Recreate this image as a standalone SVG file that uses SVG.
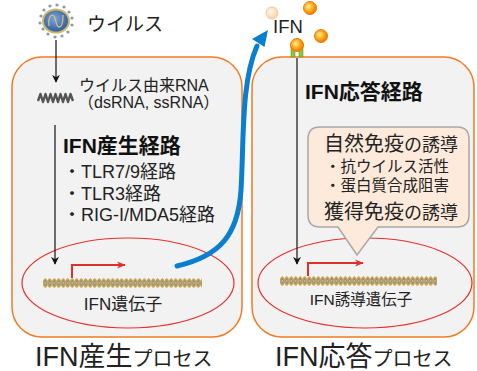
<svg xmlns="http://www.w3.org/2000/svg" width="477" height="371" viewBox="0 0 477 371">
  <style>
    text { font-family: "Liberation Sans", "Noto Sans CJK JP", sans-serif; fill: #222; }
    .bold { font-weight: bold; fill: #111; }
    .cell { fill: #f2f2f2; stroke: #f47a22; stroke-width: 1.5; }
    .nucleus { fill: none; stroke: #e8302a; stroke-width: 1.2; }
    .path-line { fill: none; stroke: #222; stroke-width: 1.3; }
    .tss { fill: none; stroke: #e0302a; stroke-width: 2; }
    .ifn-ball { stroke: #e87d10; stroke-width: 1; fill: url(#ballGrad); }
  </style>
  <defs>
    <radialGradient id="ballGrad" cx="0.4" cy="0.4" r="0.6">
      <stop offset="0" stop-color="#fff3a0"/>
      <stop offset="0.5" stop-color="#ffb020"/>
      <stop offset="1" stop-color="#f07800"/>
    </radialGradient>
    <radialGradient id="fadedBall" cx="0.4" cy="0.4" r="0.6">
      <stop offset="0" stop-color="#fffbe8"/>
      <stop offset="1" stop-color="#f8cfa8"/>
    </radialGradient>
    <radialGradient id="virusGrad" cx="0.45" cy="0.4" r="0.6">
      <stop offset="0" stop-color="#7aa6dc"/>
      <stop offset="1" stop-color="#2c5a9c"/>
    </radialGradient>
    <!-- repeating double helix, one turn per tile -->
    <pattern id="helix" patternUnits="userSpaceOnUse" x="0" y="0" width="9" height="14">
      <path d="M0,7 Q2.25,-1 4.5,7 Q2.25,15 0,7 Z M4.5,7 Q6.75,-1 9,7 Q6.75,15 4.5,7 Z" fill="#8f8f8f" stroke="#c9a44e" stroke-width="1.4"/>
      <path d="M1.5,7 H3 M6,7 H7.5" stroke="#d8d8d8" stroke-width="1"/>
    </pattern>
    <marker id="blackHead" viewBox="0 0 10 10" refX="9" refY="5" markerWidth="8" markerHeight="8" markerUnits="userSpaceOnUse" orient="auto">
      <path d="M0,0 L10,5 L0,10 L3,5 Z" fill="#111"/>
    </marker>
    <marker id="redHead" viewBox="0 0 10 10" refX="9" refY="5" markerWidth="9" markerHeight="9" markerUnits="userSpaceOnUse" orient="auto">
      <path d="M0,1 L10,5 L0,9 L3,5 Z" fill="#e0302a"/>
    </marker>
  </defs>

  <rect width="477" height="371" fill="#fff"/>

  <!-- left cell: IFN production -->
  <g id="cell-production">
    <rect class="cell" x="12" y="57" width="230" height="280" rx="30"/>
    <ellipse class="nucleus" cx="128" cy="283" rx="106" ry="45"/>
    <g transform="translate(43,276)"><rect width="159" height="14" fill="url(#helix)"/></g>
    <path class="tss" d="M72,278 V265 H125" marker-end="url(#redHead)"/>
    <text x="123" y="310" font-size="17" text-anchor="middle">IFN遺伝子</text>
    <text x="35" y="366" font-size="27">IFN産生<tspan font-size="20">プロセス</tspan></text>
  </g>

  <!-- right cell: IFN response -->
  <g id="cell-response">
    <rect class="cell" x="252" y="57" width="222" height="280" rx="30"/>
    <ellipse class="nucleus" cx="365" cy="283" rx="107" ry="45"/>
    <g transform="translate(280,274)"><rect width="157" height="14" fill="url(#helix)"/></g>
    <path class="tss" d="M308,276 V263 H363" marker-end="url(#redHead)"/>
    <text x="361" y="305" font-size="15.5" text-anchor="middle">IFN誘導遺伝子</text>
    <text x="275" y="366" font-size="27">IFN応答<tspan font-size="20">プロセス</tspan></text>
  </g>

  <!-- virus -->
  <g id="virus">
    <g fill="#8a99ad">
      <circle cx="41" cy="16" r="1.6"/><circle cx="44" cy="10" r="1.6"/><circle cx="50" cy="6" r="1.6"/>
      <circle cx="57" cy="5" r="1.6"/><circle cx="64" cy="7" r="1.6"/><circle cx="69" cy="12" r="1.6"/>
      <circle cx="72" cy="18" r="1.6"/><circle cx="72" cy="25" r="1.6"/><circle cx="68" cy="32" r="1.6"/>
      <circle cx="62" cy="36" r="1.6"/><circle cx="55" cy="37" r="1.6"/><circle cx="48" cy="34" r="1.6"/>
      <circle cx="43" cy="29" r="1.6"/><circle cx="40" cy="23" r="1.6"/>
    </g>
    <ellipse cx="56" cy="21" rx="13" ry="11.5" fill="url(#virusGrad)" stroke="#cdb865" stroke-width="2"/>
    <path d="M49,26 C48,18 51,13 54,16 C56,19 56,27 59,27 C62,27 63,20 63,15" fill="none" stroke="#d8c070" stroke-width="1.3"/>
    <text x="87" y="31" font-size="19">ウイルス</text>
  </g>

  <!-- viral RNA -->
  <g id="viral-rna">
    <path d="M38,101 L40.5,94 L43,102 L45.5,94 L48,102 L50.5,94 L53,102 L55.5,94 L58,102 L60.5,94 L63,102 L65.5,94 L68,102 L70.5,94 L73,101" fill="none" stroke="#555" stroke-width="2.4" stroke-linejoin="round"/>
    <text x="79" y="91" font-size="16">ウイルス由来RNA</text>
    <text x="78" y="108" font-size="16">（dsRNA, ssRNA）</text>
  </g>

  <!-- production pathways -->
  <g id="production-pathway">
    <text class="bold" x="63" y="153" font-size="21">IFN産生経路</text>
    <text x="63" y="178" font-size="18">・TLR7/9経路</text>
    <text x="63" y="200" font-size="18">・TLR3経路</text>
    <text x="63" y="221" font-size="18">・RIG-I/MDA5経路</text>
  </g>

  <!-- secreted IFN and receptor -->
  <g id="ifn">
    <rect x="291" y="47" width="4" height="10" fill="#8cc43a" stroke="#6a9a20" stroke-width="0.6"/>
    <rect x="299" y="47" width="4" height="10" fill="#8cc43a" stroke="#6a9a20" stroke-width="0.6"/>
    <circle cx="272" cy="13" r="6" fill="url(#fadedBall)" stroke="#f3c9a0" stroke-width="1"/>
    <circle class="ifn-ball" cx="310" cy="8" r="6.5"/>
    <circle class="ifn-ball" cx="321" cy="36" r="6.5"/>
    <circle class="ifn-ball" cx="297" cy="45" r="6.5"/>
    <text x="273" y="33" font-size="18.5">IFN</text>
  </g>

  <!-- response pathway and its effects -->
  <g id="response-pathway">
    <text class="bold" x="305" y="99" font-size="21">IFN応答経路</text>
  </g>
  <g id="callout">
    <path d="M320,127 H457 Q469,127 469,139 V215 Q469,227 457,227 H378 L357,255 L338,227 H320 Q308,227 308,215 V139 Q308,127 320,127 Z" fill="#fdeadb" stroke="#a8a8a8" stroke-width="1.5"/>
    <text x="391" y="151" font-size="20" text-anchor="middle">自然免疫<tspan font-size="18">の誘導</tspan></text>
    <text x="387" y="172" font-size="15.5" text-anchor="middle">・抗ウイルス活性</text>
    <text x="387" y="191" font-size="15.5" text-anchor="middle">・蛋白質合成阻害</text>
    <text x="391" y="219" font-size="20" text-anchor="middle">獲得免疫<tspan font-size="18">の誘導</tspan></text>
  </g>

  <!-- connectors -->
  <g id="connectors">
    <line class="path-line" x1="56" y1="40" x2="56" y2="82" marker-end="url(#blackHead)"/>
    <line class="path-line" x1="55" y1="125" x2="55" y2="264" marker-end="url(#blackHead)"/>
    <line class="path-line" x1="297" y1="58" x2="297" y2="264" marker-end="url(#blackHead)"/>
    <path d="M177,266 C220,256 238,235 241,190 C244,140 241,82 257,46" fill="none" stroke="#0a7fd0" stroke-width="5" stroke-linecap="round"/>
    <polygon points="268,30 264.5,47 252,39" fill="#0a7fd0"/>
  </g>
</svg>
